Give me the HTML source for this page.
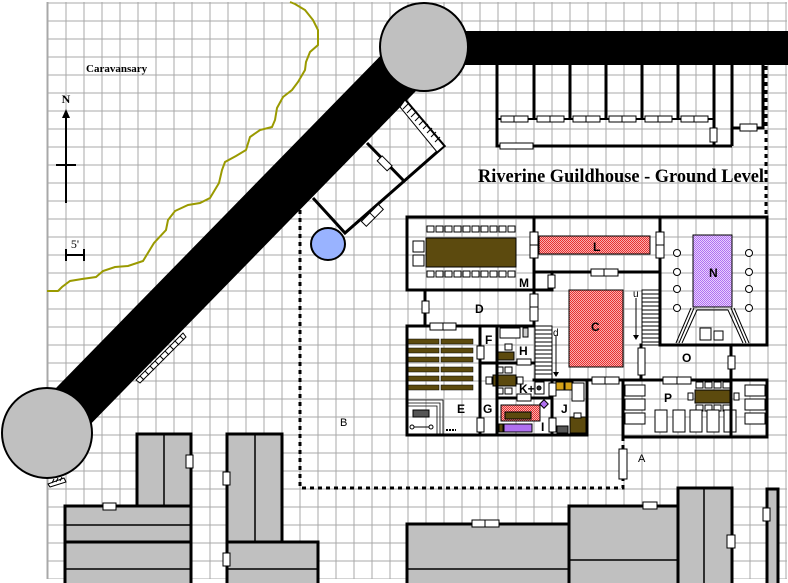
<!DOCTYPE html>
<html><head><meta charset="utf-8"><style>
html,body{margin:0;padding:0;background:#fff;}
svg{display:block;font-family:"Liberation Sans",sans-serif;}
.serif{font-family:"Liberation Serif",serif;}
</style></head><body>
<svg width="788" height="583" viewBox="0 0 788 583" xmlns="http://www.w3.org/2000/svg">
<defs>
<pattern id="g" x="47.5" y="2.5" width="18" height="18" patternUnits="userSpaceOnUse">
<path d="M0 0.5H18M0.5 0V18" stroke="#a8a8a8" stroke-width="1" fill="none"/>
</pattern>
<pattern id="red" width="2" height="2" patternUnits="userSpaceOnUse">
<rect width="2" height="2" fill="#f8b0b0"/><rect width="1" height="1" fill="#e83030"/><rect x="1" y="1" width="1" height="1" fill="#e83030"/>
</pattern>
<pattern id="lav" width="2" height="2" patternUnits="userSpaceOnUse">
<rect width="2" height="2" fill="#e8d0ff"/><rect width="1" height="1" fill="#b070f0"/><rect x="1" y="1" width="1" height="1" fill="#b070f0"/>
</pattern>
</defs>
<rect x="47" y="2" width="740" height="577" fill="url(#g)"/>
<line x1="47" y1="2" x2="47" y2="579" stroke="#a8a8a8"/>

<polyline fill="none" stroke="#9a9a00" stroke-width="2" points="290,2 295,4 305,10 313,20 318,30 318,45 310,52 306,62 305,70 298,82 292,90 283,97 277,108 275,120 272,127 260,130 250,137 246,150 236,156 225,162 222,170 219,183 210,198 200,203 188,205 175,211 168,220 166,230 154,243 143,261 128,266 115,267 103,271 96,277 82,279 70,281 62,287 58,291 47,291"/>

<line x1="66" y1="115" x2="66" y2="203" stroke="#000" stroke-width="2"/>
<polygon points="62,118 70,118 66,109" fill="#000"/>
<line x1="56" y1="165" x2="76" y2="165" stroke="#000" stroke-width="2"/>
<text class="serif" x="66" y="103" font-size="12" font-weight="bold" text-anchor="middle">N</text>
<text class="serif" x="75" y="248" font-size="12" text-anchor="middle">5'</text>
<line x1="66" y1="255" x2="84" y2="255" stroke="#000" stroke-width="2"/>
<line x1="66" y1="249" x2="66" y2="261" stroke="#000" stroke-width="2"/>
<line x1="84" y1="249" x2="84" y2="261" stroke="#000" stroke-width="2"/>
<text class="serif" x="86" y="72" font-size="11" font-weight="bold">Caravansary</text>

<g stroke="#000" stroke-width="3" stroke-dasharray="4,4" fill="none">
<polyline points="300,210 300,488 623,488 623,437"/>
<line x1="766" y1="66" x2="766" y2="216"/>
</g>
<rect x="619" y="449" width="8" height="30" fill="#fff" stroke="#000"/>
<text x="638" y="462" font-size="11">A</text>
<text x="340" y="426" font-size="11">B</text>

<line x1="47" y1="433" x2="424" y2="47" stroke="#000" stroke-width="50"/>
<rect x="424" y="31" width="364" height="34" fill="#000"/>
<circle cx="424" cy="47" r="44" fill="#c0c0c0" stroke="#000" stroke-width="2"/>
<circle cx="47" cy="433" r="45" fill="#c0c0c0" stroke="#000" stroke-width="2"/>
<g stroke="#000" stroke-width="1">
<polygon points="136,380 183,333 186,337 140,383" fill="#fff"/>
<path d="M140,376l4,4M145,371l4,4M150,366l4,4M155,361l4,4M160,356l4,4M165,351l4,4M170,346l4,4M175,341l4,4M180,336l4,4"/>
<path d="M48,484 l16,-6 l2,4 l-16,5z" fill="#fff"/>
<path d="M52,483l2,-4M56,482l2,-4M60,481l2,-4"/>
</g>

<g stroke="#000" stroke-width="3" fill="none">
<polyline points="405,100 444,146 345,233 313,198"/>
<line x1="367" y1="143" x2="405" y2="182"/>
</g>
<g stroke="#000" stroke-width="1" fill="#fff">
<polygon points="405,100 444,146 437,152 400,107"/>
<path d="M408,104l-5,5M412,108l-5,5M416,112l-5,5M420,116l-5,5M424,120l-5,5M428,124l-5,5M432,128l-5,5M436,132l-5,5M440,137l-5,5" fill="none"/>
<rect x="378" y="160" width="14" height="7" transform="rotate(45 385 163)"/>
<rect x="360" y="212" width="24" height="7" transform="rotate(-45 372 215)"/>
<line x1="372" y1="211" x2="372" y2="219" transform="rotate(-45 372 215)"/>
</g>
<ellipse cx="328" cy="244" rx="17" ry="16" fill="#99b3ff" stroke="#000" stroke-width="2"/>

<g stroke="#000" stroke-width="3" fill="none">
<path d="M497,65V146H732M534,65V119M570,65V119M606,65V119M642,65V119M678,65V119M714,65V146M732,65V146M732,128H763V65"/>
<line x1="497" y1="119" x2="714" y2="119" stroke-width="2"/>
</g>
<g fill="#fff" stroke="#000" stroke-width="1">
<rect x="501" y="116" width="27" height="6"/><line x1="514" y1="116" x2="514" y2="122"/>
<rect x="537" y="116" width="27" height="6"/><line x1="550" y1="116" x2="550" y2="122"/>
<rect x="573" y="116" width="27" height="6"/><line x1="586" y1="116" x2="586" y2="122"/>
<rect x="609" y="116" width="27" height="6"/><line x1="622" y1="116" x2="622" y2="122"/>
<rect x="645" y="116" width="27" height="6"/><line x1="658" y1="116" x2="658" y2="122"/>
<rect x="681" y="116" width="27" height="6"/><line x1="694" y1="116" x2="694" y2="122"/>
<rect x="710" y="128" width="7" height="14"/>
<rect x="500" y="143" width="33" height="6"/>
<rect x="740" y="124" width="17" height="7"/>
</g>
<text class="serif" x="478" y="182" font-size="19" font-weight="bold" textLength="286" lengthAdjust="spacingAndGlyphs">Riverine Guildhouse - Ground Level</text>

<rect x="539" y="236" width="111" height="18" fill="url(#red)" stroke="#000"/>
<rect x="569" y="290" width="54" height="77" fill="url(#red)" stroke="#000"/>
<rect x="693" y="235" width="39" height="72" fill="url(#lav)" stroke="#000"/>
<g fill="#fff" stroke="#000">
<circle cx="677" cy="253" r="3.5"/><circle cx="677" cy="272" r="3.5"/><circle cx="677" cy="289" r="3.5"/><circle cx="677" cy="308" r="3.5"/>
<circle cx="749" cy="253" r="3.5"/><circle cx="749" cy="272" r="3.5"/><circle cx="749" cy="289" r="3.5"/><circle cx="749" cy="308" r="3.5"/>
</g>
<g stroke="#000" stroke-width="1" fill="none">
<polyline points="694,308 679,343"/><polyline points="691,308 676,343"/><polyline points="697,310 682,343"/>
<polyline points="731,308 746,343"/><polyline points="734,308 749,343"/><polyline points="728,310 743,343"/>
<line x1="697" y1="310" x2="728" y2="310"/>
</g>
<rect x="700" y="328" width="11" height="12" fill="#fff" stroke="#000"/><rect x="714" y="331" width="9" height="9" fill="#fff" stroke="#000"/>
<g stroke="#000" stroke-width="1">
<rect x="642" y="290" width="17" height="55" fill="#fff"/>
<path d="M642,294H659M642,298H659M642,302H659M642,306H659M642,310H659M642,314H659M642,318H659M642,322H659M642,326H659M642,330H659M642,334H659M642,338H659M642,342H659"/>
<rect x="535" y="326" width="17" height="54" fill="#fff"/>
<path d="M535,330H552M535,334H552M535,338H552M535,342H552M535,346H552M535,350H552M535,354H552M535,358H552M535,362H552M535,366H552M535,370H552M535,374H552"/>
<line x1="636" y1="298" x2="636" y2="335"/><line x1="556" y1="335" x2="556" y2="372"/>
</g>
<polygon points="633,335 639,335 636,340" fill="#000"/><polygon points="553,372 559,372 556,377" fill="#000"/>
<text x="633" y="297" font-size="10">u</text><text x="553" y="336" font-size="10">d</text>

<rect x="426" y="238" width="90" height="29" fill="#5c4a0e" stroke="#000"/>
<g fill="#fff" stroke="#000" stroke-width="1">
<rect x="427" y="226" width="7" height="6"/><rect x="436" y="226" width="7" height="6"/><rect x="445" y="226" width="7" height="6"/><rect x="454" y="226" width="7" height="6"/><rect x="463" y="226" width="7" height="6"/><rect x="472" y="226" width="7" height="6"/><rect x="481" y="226" width="7" height="6"/><rect x="490" y="226" width="7" height="6"/><rect x="499" y="226" width="7" height="6"/><rect x="508" y="226" width="7" height="6"/>
<rect x="427" y="271" width="7" height="6"/><rect x="436" y="271" width="7" height="6"/><rect x="445" y="271" width="7" height="6"/><rect x="454" y="271" width="7" height="6"/><rect x="463" y="271" width="7" height="6"/><rect x="472" y="271" width="7" height="6"/><rect x="481" y="271" width="7" height="6"/><rect x="490" y="271" width="7" height="6"/><rect x="499" y="271" width="7" height="6"/><rect x="508" y="271" width="7" height="6"/>
<rect x="413" y="241" width="11" height="11"/><rect x="413" y="255" width="11" height="11"/>
</g>
<g fill="#5c4a0e" stroke="#000" stroke-width="0.5">
<rect x="407" y="339" width="32" height="5"/><rect x="441" y="339" width="32" height="5"/>
<rect x="407" y="348" width="32" height="5"/><rect x="441" y="348" width="32" height="5"/>
<rect x="407" y="357" width="32" height="5"/><rect x="441" y="357" width="32" height="5"/>
<rect x="407" y="367" width="32" height="5"/><rect x="441" y="367" width="32" height="5"/>
<rect x="407" y="376" width="32" height="5"/><rect x="441" y="376" width="32" height="5"/>
<rect x="407" y="385" width="32" height="5"/><rect x="441" y="385" width="32" height="5"/>
</g>
<path d="M407,400H443V435M407,403H440V435M407,406H437V435" stroke="#000" fill="none" stroke-width="0.8"/>
<rect x="413" y="410" width="16" height="7" fill="#555" stroke="#000"/>
<path d="M411,427H431" stroke="#000"/><circle cx="412" cy="427" r="2" fill="#fff" stroke="#000"/><circle cx="431" cy="427" r="2" fill="#fff" stroke="#000"/>
<path d="M446,430h10" stroke="#000" stroke-width="2" stroke-dasharray="2,1"/>
<g stroke="#000" stroke-width="1">
<rect x="500" y="328" width="20" height="10" fill="#fff"/><rect x="523" y="328" width="5" height="9" fill="#ccc"/>
<rect x="505" y="344" width="7" height="6" fill="#fff"/>
<rect x="498" y="352" width="16" height="8" fill="#5c4a0e"/>
<rect x="493" y="375" width="23" height="11" fill="#5c4a0e"/>
<rect x="496" y="367" width="7" height="6" fill="#fff"/><rect x="505" y="367" width="7" height="6" fill="#fff"/>
<rect x="496" y="388" width="7" height="6" fill="#fff"/><rect x="505" y="388" width="7" height="6" fill="#fff"/>
<rect x="486" y="377" width="6" height="7" fill="#fff"/><rect x="517" y="377" width="6" height="7" fill="#fff"/>
<rect x="501" y="405" width="39" height="16" fill="url(#red)"/>
<rect x="505" y="412" width="26" height="7" fill="#5c4a0e"/>
<rect x="504" y="424" width="28" height="8" fill="#b070f0"/>
<rect x="499" y="424" width="4" height="8" fill="#5c4a0e"/>
<rect x="541" y="401" width="6" height="6" fill="#b070f0" transform="rotate(45 544 404)"/>
<rect x="535" y="382" width="9" height="12" fill="#fff"/><circle cx="539" cy="388" r="2" fill="#333"/>
<rect x="556" y="382" width="8" height="8" fill="#d4a017"/><rect x="565" y="382" width="8" height="8" fill="#d4a017"/>
<rect x="572" y="383" width="12" height="18" fill="#fff"/>
<rect x="570" y="417" width="16" height="16" fill="#5c4a0e"/><rect x="574" y="413" width="7" height="5" fill="#fff"/>
<rect x="557" y="426" width="11" height="7" fill="#555"/>
</g>
<rect x="695" y="390" width="37" height="13" fill="#5c4a0e" stroke="#000"/>
<g fill="#fff" stroke="#000" stroke-width="1">
<rect x="696" y="382" width="7" height="6"/><rect x="705" y="382" width="7" height="6"/><rect x="714" y="382" width="7" height="6"/><rect x="723" y="382" width="7" height="6"/>
<rect x="696" y="405" width="7" height="6"/><rect x="705" y="405" width="7" height="6"/><rect x="714" y="405" width="7" height="6"/><rect x="723" y="405" width="7" height="6"/>
<rect x="688" y="393" width="5" height="7"/><rect x="734" y="393" width="5" height="7"/>
<rect x="625" y="385" width="20" height="11"/><rect x="625" y="399" width="20" height="11"/><rect x="625" y="413" width="20" height="11"/>
<rect x="745" y="385" width="20" height="11"/><rect x="745" y="399" width="20" height="11"/><rect x="745" y="413" width="20" height="11"/>
<rect x="655" y="410" width="12" height="22"/><rect x="673" y="410" width="12" height="22"/><rect x="690" y="410" width="12" height="22"/><rect x="707" y="410" width="12" height="22"/><rect x="724" y="410" width="12" height="22"/>
</g>

<g stroke="#000" stroke-width="3" fill="none" stroke-linecap="square">
<path d="M407,217H767V345H660V217M534,217V326M407,217V290H534M425,290V326M407,326V435H587V380M407,326H534"/>
<path d="M534,272H660M534,290H552V272"/>
<path d="M731,345V437M623,380H767V437H623V380M587,380H623M641,345V380"/>
<path d="M480,326V435M497,326V363M480,363H534M497,363V435M497,398H552M552,380V435M534,380H587"/>
</g>
<g fill="#fff" stroke="#000" stroke-width="1">
<rect x="530" y="232" width="8" height="26"/><line x1="530" y1="245" x2="538" y2="245"/>
<rect x="656" y="232" width="8" height="26"/><line x1="656" y1="245" x2="664" y2="245"/>
<rect x="530" y="294" width="8" height="27"/><line x1="530" y1="307" x2="538" y2="307"/>
<rect x="591" y="269" width="27" height="7"/><line x1="604" y1="269" x2="604" y2="276"/>
<rect x="548" y="275" width="7" height="13"/>
<rect x="422" y="301" width="7" height="12"/>
<rect x="430" y="323" width="26" height="7"/><line x1="443" y1="323" x2="443" y2="330"/>
<rect x="477" y="346" width="7" height="13"/><rect x="477" y="418" width="7" height="14"/>
<rect x="517" y="359" width="14" height="6"/><rect x="517" y="394" width="14" height="7"/>
<rect x="549" y="383" width="7" height="13"/><rect x="549" y="418" width="7" height="14"/>
<rect x="592" y="377" width="27" height="7"/><line x1="605" y1="377" x2="605" y2="384"/>
<rect x="638" y="348" width="7" height="27"/>
<rect x="663" y="377" width="28" height="7"/><line x1="677" y1="377" x2="677" y2="384"/>
<rect x="728" y="356" width="7" height="13"/>
</g>
<g font-size="12" font-weight="bold">
<text x="519" y="287">M</text><text x="475" y="313">D</text><text x="485" y="344">F</text><text x="519" y="355">H</text>
<text x="457" y="413">E</text><text x="483" y="413">G</text><text x="519" y="393">K+</text><text x="541" y="431">I</text><text x="561" y="413">J</text>
<text x="593" y="251">L</text><text x="591" y="331">C</text><text x="709" y="277">N</text><text x="682" y="362">O</text><text x="664" y="402">P</text>
</g>

<g fill="#c0c0c0" stroke="#000" stroke-width="3">
<rect x="137" y="434" width="54" height="72"/>
<rect x="65" y="506" width="126" height="80"/>
<rect x="227" y="434" width="55" height="108"/>
<rect x="227" y="542" width="91" height="44"/>
<rect x="407" y="524" width="162" height="62"/>
<rect x="569" y="506" width="109" height="80"/>
<rect x="678" y="488" width="54" height="98"/>
<rect x="767" y="489" width="11" height="97"/>
</g>
<g stroke="#000" stroke-width="1.5">
<line x1="164" y1="434" x2="164" y2="506"/><line x1="65" y1="525" x2="191" y2="525"/>
<line x1="65" y1="542" x2="191" y2="542" stroke-width="3"/><line x1="65" y1="569" x2="191" y2="569"/>
<line x1="255" y1="434" x2="255" y2="542"/><line x1="227" y1="569" x2="318" y2="569"/>
<line x1="407" y1="569" x2="569" y2="569"/><line x1="569" y1="560" x2="678" y2="560"/>
<line x1="704" y1="488" x2="704" y2="586"/>
</g>
<g fill="#fff" stroke="#000" stroke-width="1">
<rect x="186" y="455" width="7" height="13"/><rect x="103" y="503" width="13" height="7"/>
<rect x="223" y="472" width="7" height="13"/><rect x="223" y="553" width="7" height="13"/>
<rect x="472" y="520" width="27" height="7"/><line x1="485" y1="520" x2="485" y2="527"/>
<rect x="643" y="502" width="14" height="7"/><rect x="727" y="535" width="8" height="13"/>
<rect x="763" y="508" width="7" height="13"/>
</g>
</svg>
</body></html>
